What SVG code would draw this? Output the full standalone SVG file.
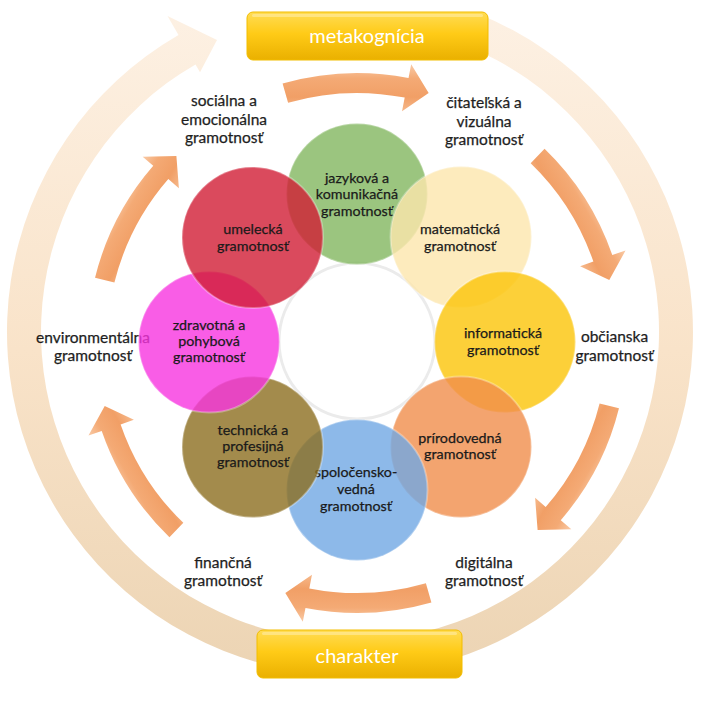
<svg xmlns="http://www.w3.org/2000/svg" width="712" height="708" viewBox="0 0 712 708">
<defs>
<linearGradient id="ringG" gradientUnits="userSpaceOnUse" x1="0" y1="0" x2="0" y2="700">
<stop offset="0" stop-color="#fdf1e4"/><stop offset="0.5" stop-color="#f9e3c9"/><stop offset="1" stop-color="#ebd3b2"/>
</linearGradient>
<linearGradient id="arrG" x1="0" y1="0" x2="0" y2="1">
<stop offset="0" stop-color="#f9caa6"/><stop offset="0.3" stop-color="#f4aa75"/><stop offset="0.7" stop-color="#f19f66"/><stop offset="1" stop-color="#f6b98c"/>
</linearGradient>
<linearGradient id="banG" x1="0" y1="0" x2="0" y2="1">
<stop offset="0" stop-color="#ffdc55"/><stop offset="0.45" stop-color="#ffcb17"/><stop offset="1" stop-color="#eab000"/>
</linearGradient>
<path id="arr" d="M282.58,83.46 A270,270 0 0 1 408.52,77.96 L411.19,64.22 L428.67,93.07 L402.03,111.34 L404.7,97.59 A250,250 0 0 0 288.09,102.68 Z"/>
</defs>
<style>
.lbl{font-family:Lato,"Open Sans","Liberation Sans",sans-serif;font-size:15.5px;fill:#1e1e1e;stroke:#1e1e1e;stroke-width:0.25;text-anchor:middle}
.ct{font-family:Lato,"Open Sans","Liberation Sans",sans-serif;font-size:14.3px;fill:#1a1a1a;stroke:#1a1a1a;stroke-width:0.25;text-anchor:middle}
.bt{font-family:Lato,"Open Sans","Liberation Sans",sans-serif;font-size:20px;fill:#fff;text-anchor:middle}
.c{stroke:#ffffff;stroke-opacity:0.3;stroke-width:2;fill-opacity:0.8}
.ban{fill:url(#banG);stroke:#f2bd00;stroke-width:1}
</style>
<rect width="712" height="708" fill="#fff"/>
<g id="connectors">
<path id="outer-ring" d="M478.5,14 A343,343 0 1 1 178.5,34.95 L167.5,15.9 L217,40 L200,72.2 L195.5,64.4 A309,309 0 1 0 465.8,45.5 Z" fill="url(#ringG)"/>
<use href="#arr" fill="url(#arrG)"/>
<use href="#arr" fill="url(#arrG)" transform="rotate(60 357 343)"/>
<use href="#arr" fill="url(#arrG)" transform="rotate(120 357 343)"/>
<use href="#arr" fill="url(#arrG)" transform="rotate(180 357 343)"/>
<use href="#arr" fill="url(#arrG)" transform="rotate(240 357 343)"/>
<use href="#arr" fill="url(#arrG)" transform="rotate(300 357 343)"/>
</g>
<g id="labels">
<text class="lbl"><tspan x="224" y="106">sociálna a</tspan><tspan x="224" y="124.5">emocionálna</tspan><tspan x="224" y="143">gramotnosť</tspan></text>
<text class="lbl"><tspan x="484" y="108">čitateľská a</tspan><tspan x="484" y="126.5">vizuálna</tspan><tspan x="484" y="145">gramotnosť</tspan></text>
<text class="lbl"><tspan x="614.5" y="342">občianska</tspan><tspan x="614.5" y="360.5">gramotnosť</tspan></text>
<text class="lbl"><tspan x="484" y="567.5">digitálna</tspan><tspan x="484" y="586">gramotnosť</tspan></text>
<text class="lbl"><tspan x="223" y="567.5">finančná</tspan><tspan x="223" y="586">gramotnosť</tspan></text>
<text class="lbl"><tspan x="93" y="342.5">environmentálna</tspan><tspan x="93" y="361">gramotnosť</tspan></text>
</g>
<g id="center">
<circle cx="357" cy="341" r="78" fill="#fff" stroke="#ebebeb" stroke-width="3"/>
</g>
<g id="jazykova">
<circle class="c" cx="357" cy="194" r="70.5" fill="#82b75f"/>
<text class="ct"><tspan x="357" y="183">jazyková a</tspan><tspan x="357" y="199">komunikačná</tspan><tspan x="357" y="215.5">gramotnosť</tspan></text>
</g>
<g id="matematicka">
<circle class="c" cx="461" cy="237" r="70.5" fill="#fde6ac"/>
<text class="ct"><tspan x="460" y="234">matematická</tspan><tspan x="460" y="250.5">gramotnosť</tspan></text>
</g>
<g id="informaticka">
<circle class="c" cx="505" cy="342" r="70.5" fill="#fbc408"/>
<text class="ct"><tspan x="503" y="338">informatická</tspan><tspan x="503" y="354.5">gramotnosť</tspan></text>
</g>
<g id="prirodovedna">
<circle class="c" cx="461" cy="447" r="70.5" fill="#f08d4b"/>
<text class="ct"><tspan x="460" y="443">prírodovedná</tspan><tspan x="460" y="459">gramotnosť</tspan></text>
</g>
<g id="spolocenskovedna">
<circle class="c" cx="357" cy="490" r="70.5" fill="#70a7e3"/>
<text class="ct"><tspan x="356" y="477">spoločensko-</tspan><tspan x="356" y="494">vedná</tspan><tspan x="356" y="510.5">gramotnosť</tspan></text>
</g>
<g id="technicka">
<circle class="c" cx="252.5" cy="447" r="70.5" fill="#8c6e1f"/>
<text class="ct"><tspan x="253" y="434.5">technická a</tspan><tspan x="253" y="450.5">profesijná</tspan><tspan x="253" y="467">gramotnosť</tspan></text>
</g>
<g id="zdravotna">
<circle class="c" cx="209" cy="342" r="70.5" fill="#f735e0"/>
<text class="ct"><tspan x="209" y="329.5">zdravotná a</tspan><tspan x="209" y="346">pohybová</tspan><tspan x="209" y="362">gramotnosť</tspan></text>
</g>
<g id="umelecka">
<circle class="c" cx="252.5" cy="237.5" r="70.5" fill="#d11d34"/>
<text class="ct"><tspan x="253" y="234">umelecká</tspan><tspan x="253" y="250.5">gramotnosť</tspan></text>
</g>
<g id="metakognicia">
<rect class="ban" x="247" y="12" width="241" height="48" rx="6"/>
<rect x="252" y="14" width="231" height="3" rx="1.5" fill="#fff" opacity="0.3"/>
<text class="bt" x="367" y="43">metakognícia</text>
</g>
<g id="charakter">
<rect class="ban" x="257" y="630" width="205" height="48" rx="6"/>
<rect x="262" y="632" width="195" height="3" rx="1.5" fill="#fff" opacity="0.3"/>
<text class="bt" x="357" y="663">charakter</text>
</g>
</svg>
